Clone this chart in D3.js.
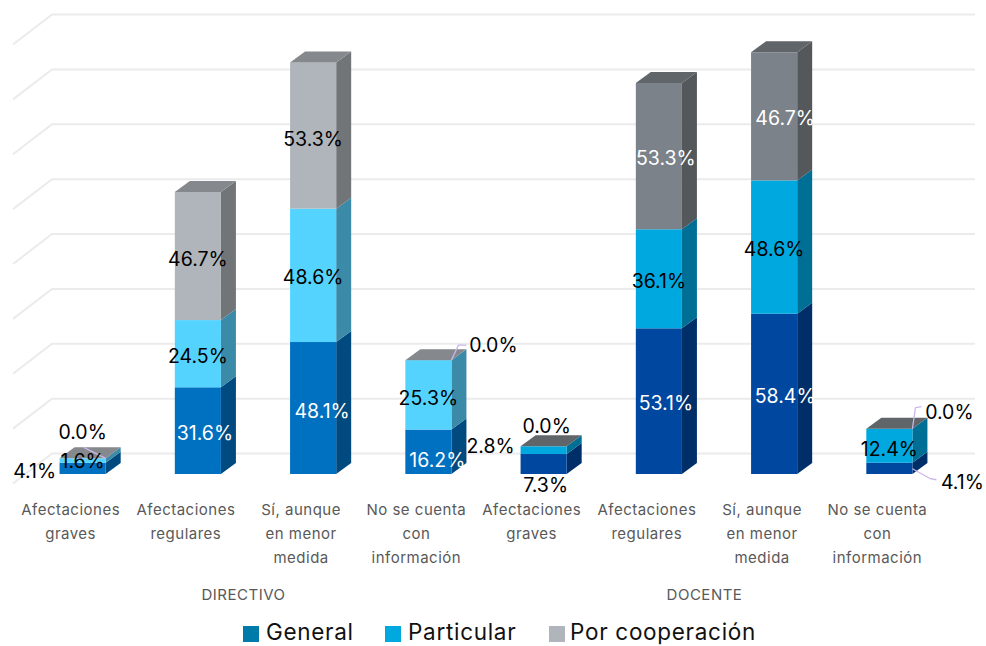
<!DOCTYPE html>
<html><head><meta charset="utf-8">
<script src="https://cdnjs.cloudflare.com/ajax/libs/d3/7.8.5/d3.min.js"></script>
<style>html,body{margin:0;padding:0;background:#fff;overflow:hidden}svg{display:block}text{font-family:Inter,"Open Sans",sans-serif}</style>
</head><body><svg id="c" width="986" height="646"></svg>
<script>
const categories=[["Afectaciones","graves"],["Afectaciones","regulares"],["Sí, aunque","en menor","medida"],["No se cuenta","con","información"],["Afectaciones","graves"],["Afectaciones","regulares"],["Sí, aunque","en menor","medida"],["No se cuenta","con","información"]];
const groups=["DIRECTIVO","DOCENTE"];
const seriesNames=["General","Particular","Por cooperación"];
const general=[4.1,31.6,48.1,16.2,7.3,53.1,58.4,4.1];
const particular=[1.6,24.5,48.6,25.3,2.8,36.1,48.6,12.4];
const cooperacion=[0,46.7,53.3,0,0,53.3,46.7,0];
const ticks=[0,20,40,60,80,100,120,140,160];

// styling (not data)
const palette=[
 [{f:"#0070c0",s:"#004a80"},{f:"#55d3ff",s:"#3a8aa8"},{f:"#afb5ba",s:"#727578",t:"#85888c"}],
 [{f:"#0047a0",s:"#002e68"},{f:"#00a8e0",s:"#006f95"},{f:"#7b8289",s:"#54585b",t:"#5f6568"}]];
const legendColors=["#007aa8","#00a8e0","#afb5ba"];
const labelColors=[["#000","#fff","#fff","#fff","#000","#fff","#fff","#000"],["#000","#000","#000","#000","#000","#000","#000","#000"],["#000","#000","#000","#000","#000","#000","#000","#000"].map((c,i)=>(i==5||i==6)?"#fff":c)];
// label nudges [dx,dy] by series, category
const nudge=[
 [[-48,1],[7,0],[9,1],[9,6],[2,19],[7,0],[11,0],[73,12]],
 [[0,-2],[0,0],[0,0],[0,1],[-53,-6],[0,0],[0,0],[0,1]],
 [[0,-28],[0,1],[0,1],[65,-17],[3,-22],[7,0],[11,0],[60,-19]]];

const svg=d3.select("#c");
const depthBack=[39,-30],barDepth=[15,-11],barShift=[12,-9.5];
const x=d3.scaleBand().domain(d3.range(categories.length)).range([13,935]);
const y=d3.scaleLinear().domain([0,160]).range([483.5,44.5]);
const barW=x.bandwidth()*0.4;

const grid=svg.append("g").attr("fill","none").attr("stroke","#ebebeb").attr("stroke-width",2);
ticks.forEach(t=>{
  grid.append("path").attr("d",d3.line()([[13,y(t)],[13+depthBack[0],y(t)+depthBack[1]],[975,y(t)+depthBack[1]]]));
});

const stacked=d3.stack().keys([0,1,2]).value((d,k)=>d[k])(d3.zip(general,particular,cooperacion));
const poly=p=>d3.line()(p)+"Z";
const bars=svg.append("g");
categories.forEach((c,i)=>{
  const g=bars.append("g");
  const x0=x(i)+(x.bandwidth()-barW)/2+barShift[0],x1=x0+barW;
  const pal=palette[i<4?0:1];
  stacked.forEach((s,k)=>{
    const yb=y(s[i][0])+barShift[1],yt=y(s[i][1])+barShift[1];
    if(yb-yt>0){
      g.append("path").attr("d",poly([[x1,yb],[x1+barDepth[0],yb+barDepth[1]],[x1+barDepth[0],yt+barDepth[1]],[x1,yt]])).attr("fill",pal[k].s);
      g.append("rect").attr("x",x0).attr("y",yt).attr("width",barW).attr("height",yb-yt).attr("fill",pal[k].f);
    }
  });
  const top=y(stacked[2][i][1])+barShift[1];
  g.append("path").attr("d",poly([[x0,top],[x1,top],[x1+barDepth[0],top+barDepth[1]],[x0+barDepth[0],top+barDepth[1]]])).attr("fill",pal[2].t);
});

// leader lines
const leader=svg.append("g").attr("fill","none").attr("stroke","#c9b6ea").attr("stroke-width",1.3);
const bx=i=>x(i)+(x.bandwidth()-barW)/2+barShift[0]+barW;
const by=(k,i)=>y(stacked[k][i][1])+barShift[1];
leader.append("path").attr("d",d3.line()([[bx(0)-22,by(2,0)-11],[bx(0),by(2,0)]]));
leader.append("path").attr("d",d3.line()([[bx(3),by(2,3)],[bx(3)+7,by(2,3)-15],[bx(3)+15,by(2,3)-15]]));
leader.append("path").attr("d",d3.line()([[bx(7),by(2,7)],[bx(7)+3,by(2,7)-21],[bx(7)+9,by(2,7)-22]]));
leader.append("path").attr("d",d3.line()([[bx(7),by(0,7)+6],[bx(7)+18,by(0,7)+16],[bx(7)+24,by(0,7)+17]]));

// data labels
const labels=svg.append("g").attr("text-anchor","middle").attr("font-size",19.5);
stacked.forEach((s,k)=>{
  categories.forEach((c,i)=>{
    const cx=x(i)+x.bandwidth()/2+barShift[0];
    const cy=(y(s[i][0])+y(s[i][1]))/2+barShift[1];
    labels.append("text").attr("x",cx+nudge[k][i][0]).attr("y",cy+nudge[k][i][1]+9)
      .attr("fill",labelColors[k][i]).text(d3.format(".1f")(s[i][1]-s[i][0])+"%");
  });
});

// category axis
const axisG=svg.append("g").attr("text-anchor","middle").attr("font-size",15).attr("letter-spacing",0.5).attr("fill","#595959");
categories.forEach((c,i)=>{
  const t=axisG.append("text").attr("x",x(i)+x.bandwidth()/2).attr("y",515);
  c.forEach((line,j)=>t.append("tspan").attr("x",x(i)+x.bandwidth()/2).attr("y",515+j*24).text(line));
});
groups.forEach((g,n)=>{
  axisG.append("text").attr("x",x(n*4)+x.bandwidth()*2).attr("y",600).text(g);
});

// legend
const legX=[243,385,549],legTx=[266,408,570];
const leg=svg.append("g");
seriesNames.forEach((n,i)=>{
  leg.append("rect").attr("x",legX[i]).attr("y",626).attr("width",16).attr("height",16).attr("fill",legendColors[i]);
  leg.append("text").attr("x",legTx[i]).attr("y",640).attr("font-size",22.5).attr("letter-spacing",0.7).attr("fill","#111").text(n);
});
</script></body></html>
